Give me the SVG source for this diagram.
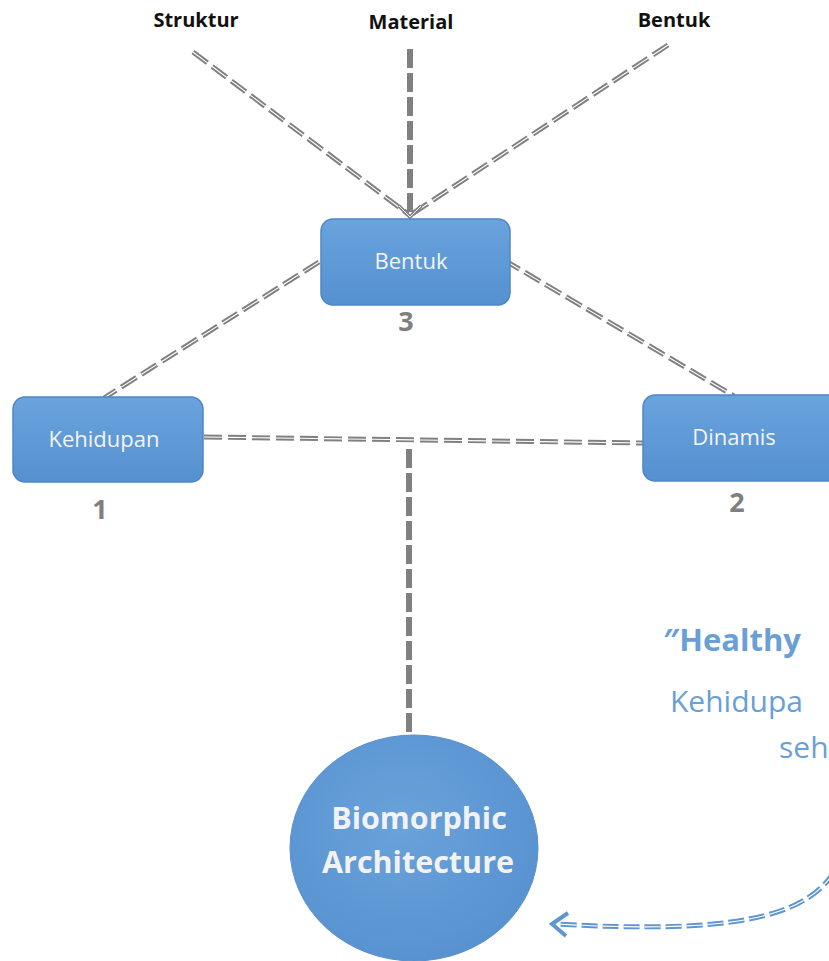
<svg xmlns="http://www.w3.org/2000/svg" width="829" height="961" viewBox="0 0 829 961">
  <defs>
    <linearGradient id="boxFill" x1="0" y1="0" x2="0" y2="1">
      <stop offset="0" stop-color="#6aa3dd"/>
      <stop offset="1" stop-color="#5590d0"/>
    </linearGradient>
    <radialGradient id="circleFill" cx="0.45" cy="0.4" r="0.7">
      <stop offset="0" stop-color="#6aa2da"/>
      <stop offset="1" stop-color="#5590cf"/>
    </radialGradient>
  </defs>
  <style>
    .box { fill: url(#boxFill); stroke: #4f86c6; stroke-width: 1.5; }
    .boxLabel { font-family: "Open Sans", sans-serif; font-size: 22px; fill: #f4f4f4; text-anchor: middle; }
    .num { font-family: "Open Sans", sans-serif; font-size: 27px; font-weight: bold; fill: #7f7f7f; text-anchor: middle; }
    .top { font-family: "Open Sans", sans-serif; font-size: 20px; font-weight: bold; fill: #111; text-anchor: middle; }
    .dbl { fill: none; stroke: #808080; stroke-width: 5; stroke-dasharray: 18 6; }
    .dblIn { fill: none; stroke: #ffffff; stroke-width: 1.1; stroke-dasharray: 18 6; }
    .thick { fill: none; stroke: #808080; stroke-width: 6; stroke-dasharray: 19 5; }
    .blueDbl { fill: none; stroke: #5f96d2; stroke-width: 5; stroke-dasharray: 16 5; }
    .blueIn { fill: none; stroke: #ffffff; stroke-width: 1.1; stroke-dasharray: 16 5; }
    .quote { font-family: "Open Sans", sans-serif; fill: #6a9fd6; }
    .big { font-family: "Open Sans", sans-serif; font-size: 30.5px; font-weight: bold; fill: #f2f2f2; text-anchor: middle; }
  </style>

  <!-- connectors -->
  <g id="connectors">
    <!-- Struktur to Bentuk -->
    <path class="dbl" d="M193 52 L408 214"/>
    <path class="dblIn" d="M193 52 L408 214"/>
    <!-- Bentuk (top) to Bentuk -->
    <path class="dbl" d="M668 45 L412 214"/>
    <path class="dblIn" d="M668 45 L412 214"/>
    <!-- Material to Bentuk -->
    <path class="thick" d="M410 49 L410 212"/>
    <!-- arrowhead into Bentuk box -->
    <path d="M399 206 L410 217 L421 206" fill="none" stroke="#808080" stroke-width="3.5"/>
    <path d="M399 206 L410 217 L421 206" fill="none" stroke="#ffffff" stroke-width="0.9"/>
    <!-- Bentuk to Kehidupan -->
    <path class="dbl" d="M319 262 L104 398"/>
    <path class="dblIn" d="M319 262 L104 398"/>
    <!-- Bentuk to Dinamis -->
    <path class="dbl" d="M504 260 L734 396"/>
    <path class="dblIn" d="M504 260 L734 396"/>
    <!-- Kehidupan to Dinamis -->
    <path class="dbl" d="M204 437 L643 443"/>
    <path class="dblIn" d="M204 437 L643 443"/>
    <!-- down to Biomorphic Architecture -->
    <path class="thick" d="M409 449 L409 735"/>
    <!-- curved return arrow -->
    <path class="blueDbl" d="M834 872 C805 918 730 934 556 924"/>
    <path class="blueIn" d="M834 872 C805 918 730 934 556 924"/>
    <path d="M568 913 L552 924 L566 936" fill="none" stroke="#5f96d2" stroke-width="4" stroke-linejoin="miter"/>
  </g>

  <!-- top labels -->
  <g id="label-struktur"><text class="top" x="196" y="27">Struktur</text></g>
  <g id="label-material"><text class="top" x="411" y="29">Material</text></g>
  <g id="label-bentuk-top"><text class="top" x="674" y="27">Bentuk</text></g>

  <!-- node: Bentuk -->
  <g id="node-bentuk">
    <rect class="box" x="321" y="219" width="189" height="86" rx="12"/>
    <text class="boxLabel" x="411" y="269">Bentuk</text>
    <text class="num" x="406" y="331">3</text>
  </g>

  <!-- node: Kehidupan -->
  <g id="node-kehidupan">
    <rect class="box" x="13" y="397" width="190" height="85" rx="12"/>
    <text class="boxLabel" x="104" y="447">Kehidupan</text>
    <text class="num" x="100" y="519">1</text>
  </g>

  <!-- node: Dinamis -->
  <g id="node-dinamis">
    <rect class="box" x="643" y="395" width="200" height="86" rx="12"/>
    <text class="boxLabel" x="734" y="445">Dinamis</text>
    <text class="num" x="737" y="512">2</text>
  </g>

  <!-- node: Biomorphic Architecture -->
  <g id="node-biomorphic">
    <ellipse cx="414" cy="848" rx="124" ry="113" fill="url(#circleFill)" stroke="#5a8fcc" stroke-width="1"/>
    <text class="big" x="419" y="829">Biomorphic</text>
    <text class="big" x="418" y="873">Architecture</text>
  </g>

  <!-- quote text -->
  <g id="quote">
    <text class="quote" x="663" y="651" font-size="31" font-weight="bold">″Healthy</text>
    <text class="quote" x="670" y="712" font-size="30">Kehidupa</text>
    <text class="quote" x="779" y="758" font-size="30">seh</text>
  </g>
</svg>
